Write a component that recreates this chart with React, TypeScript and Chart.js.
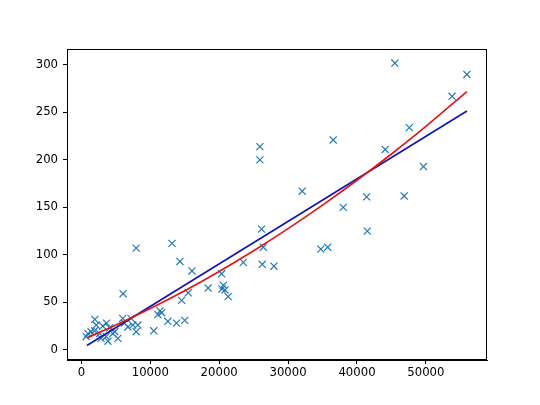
import React, { useEffect, useRef } from "react";
import { Chart, registerables } from "chart.js";

Chart.register(...registerables);

const pointX = [
  700, 950, 1400, 1900, 1950, 2150, 2650, 2850, 3100, 3600, 3650, 3850, 4100, 4550, 4850, 5300,
  6000, 6050, 6250, 6750, 7200, 7450, 7950, 8200, 7950,
  10500, 11100, 11400, 11650, 12550, 13150, 13800, 14300, 14550, 15000, 15500, 16050, 18400,
  20350, 20400, 20600, 20850, 21300, 23500,
  25900, 25900, 26150, 26400, 26250, 27950, 32050, 34750, 35750, 36550, 38000, 41400, 41500,
  44100, 45500, 46850, 47600, 49650, 53800, 55950,
];
const pointY = [
  14, 17, 19, 20, 32, 26, 17, 12, 25, 14, 28, 9, 23, 17, 19, 12,
  33, 59, 28, 24, 33, 26, 19, 26, 107,
  20, 37, 41, 39, 30, 112, 28, 93, 52, 31, 60, 83, 65,
  80, 64, 68, 63, 56, 92,
  214, 200, 127, 108, 90, 88, 167, 106, 108, 221, 150, 161, 125,
  211, 302, 162, 234, 193, 267, 290,
];

// Straight fit (blue) endpoints
const blueX = [800, 55960];
const blueY = [4.5, 251.5];

// Curved fit (red) read at sample positions
const redX = [800, 5000, 10000, 15000, 20000, 25000, 30000, 35000, 40000, 45000, 50000, 55960];
const redY = [12.5, 26, 43.4, 62.2, 82.5, 104.3, 127.6, 152.3, 178.5, 206.2, 235.3, 272];

const xTicks = [0, 10000, 20000, 30000, 40000, 50000];
const yTicks = [0, 50, 100, 150, 200, 250, 300];

const toXY = (xs: number[], ys: number[]) => xs.map((x, i) => ({ x, y: ys[i] }));

const boxPlugin = {
  id: "boxFrame",
  afterDraw(chart: any) {
    const { ctx, chartArea } = chart;
    ctx.save();
    ctx.strokeStyle = "#000";
    ctx.lineWidth = 1;
    const l = Math.round(chartArea.left) + 0.5;
    const t = Math.round(chartArea.top) + 0.5;
    const r = Math.round(chartArea.right) - 0.5;
    const b = Math.round(chartArea.bottom) - 0.5;
    ctx.strokeRect(l, t, r - l, b - t);
    ctx.restore();
  },
};

export default function App() {
  const ref = useRef<HTMLCanvasElement | null>(null);

  useEffect(() => {
    document.body.style.margin = "0";
    if (!ref.current) return;
    const font = { family: "DejaVu Sans", size: 11.7 };
    const chart = new Chart(ref.current, {
      type: "scatter",
      data: {
        datasets: [
          {
            label: "curve",
            data: toXY(redX, redY),
            showLine: true,
            borderColor: "#e01818",
            borderWidth: 1.7,
            pointRadius: 0,
            tension: 0.4,
            cubicInterpolationMode: "monotone",
            order: 1,
          } as any,
          {
            label: "line",
            data: toXY(blueX, blueY),
            showLine: true,
            borderColor: "#1414b4",
            borderWidth: 1.7,
            pointRadius: 0,
            order: 2,
          },
          {
            label: "data",
            data: toXY(pointX, pointY),
            pointStyle: "crossRot",
            pointRadius: 5,
            borderColor: "#1f77b4",
            backgroundColor: "#1f77b4",
            borderWidth: 1.15,
            order: 3,
          },
        ],
      },
      options: {
        responsive: false,
        animation: false,
        events: [],
        layout: { padding: { top: 49, right: 53, left: 0, bottom: 0 } },
        plugins: { legend: { display: false }, tooltip: { enabled: false } },
        scales: {
          x: {
            type: "linear",
            min: -2090,
            max: 58870,
            afterFit: (s: any) => {
              s.height = 45;
            },
            afterBuildTicks: (s: any) => {
              s.ticks = xTicks.map((v) => ({ value: v }));
            },
            ticks: {
              color: "#000",
              font,
              padding: 2,
              maxRotation: 0,
              callback: (v: any) => String(v),
            },
            grid: {
              drawOnChartArea: false,
              drawTicks: true,
              tickLength: 4,
              tickColor: "#000",
              tickWidth: 1,
            },
            border: { display: true, color: "#000", width: 1 },
          },
          y: {
            type: "linear",
            min: -10.8,
            max: 316.8,
            afterFit: (s: any) => {
              s.width = 67;
            },
            afterBuildTicks: (s: any) => {
              s.ticks = yTicks.map((v) => ({ value: v }));
            },
            ticks: {
              color: "#000",
              font,
              padding: 5,
              callback: (v: any) => String(v),
            },
            grid: {
              drawOnChartArea: false,
              drawTicks: true,
              tickLength: 4,
              tickColor: "#000",
              tickWidth: 1,
            },
            border: { display: true, color: "#000", width: 1 },
          },
        },
      },
      plugins: [boxPlugin],
    });
    return () => chart.destroy();
  }, []);

  return (
    <div style={{ position: "absolute", left: 0, top: 0, width: 540, height: 405, background: "#fff" }}>
      <canvas ref={ref} width={540} height={405} style={{ width: 540, height: 405 }} />
    </div>
  );
}
